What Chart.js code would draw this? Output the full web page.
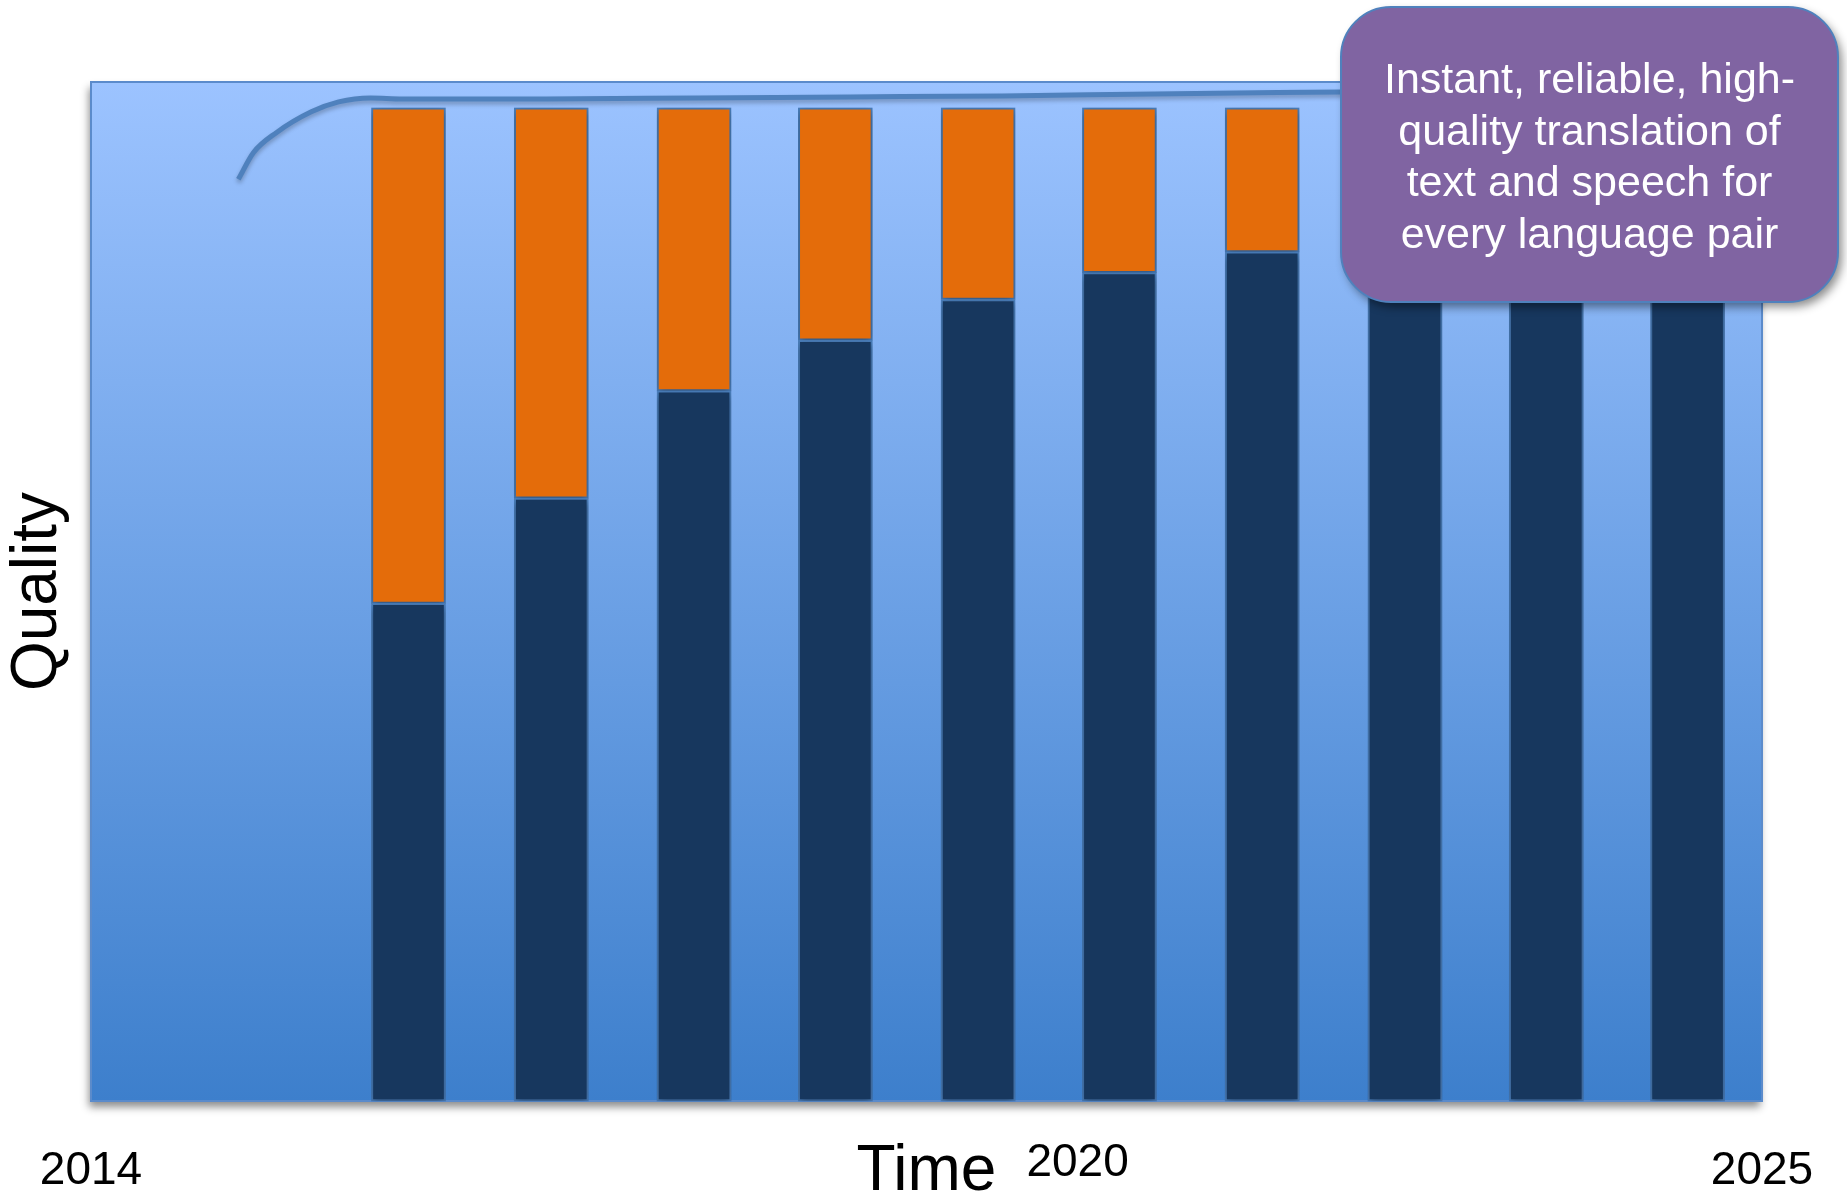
<!DOCTYPE html>
<html>
<head>
<meta charset="utf-8">
<title>Translation quality over time</title>
<script src="https://cdn.jsdelivr.net/npm/chart.js@4.4.1/dist/chart.umd.min.js"></script>
<style>
  html, body { margin: 0; padding: 0; background: #ffffff; }
  #wrap { width: 1847px; height: 1202px; }
</style>
</head>
<body>
<div id="wrap"><canvas id="qualityChart"></canvas></div>
<script>
// Chart data
const barYears = [2016.09, 2017.03, 2017.97, 2018.90, 2019.84, 2020.77, 2021.71, 2022.65, 2023.58, 2024.51];
const achieved = [50.1, 60.7, 71.5, 76.6, 80.7, 83.4, 85.5, 87.0, 88.3, 89.5]; // dark part of each bar
const remaining = [49.9, 39.3, 28.5, 23.4, 19.3, 16.6, 14.5, 13.0, 11.7, 10.5]; // orange part up to the top

const curveYears = [2014.97, 2015.07, 2015.22, 2015.45, 2015.63, 2015.84, 2016.05, 2017.0, 2018.0, 2019.0, 2020.0, 2021.0, 2022.24, 2023.5, 2024.8];
const curveQuality = [92.8, 95.5, 97.5, 99.6, 100.6, 101.0, 100.9, 100.9, 101.0, 101.1, 101.2, 101.4, 101.6, 101.8, 102.0];

const xTickYears = [2014, 2020, 2025];
const xTickLabels = ['2014', '2020', '2025'];

const calloutLines = [
  'Instant, reliable, high-',
  'quality translation of',
  'text and speech for',
  'every language pair'
];

const FONT = "'Liberation Sans', Arial, sans-serif";

// Transforms two arrays into {x, y} points
const toPoints = (xs, ys) => xs.map((x, i) => ({ x: x, y: ys[i] }));

// Label for a tick value
const yearLabel = (value) => xTickLabels[xTickYears.indexOf(value)];

// Plot background: vertical gradient with a soft shadow
const plotBackground = {
  id: 'plotBackground',
  beforeDraw(chart) {
    const { ctx, chartArea: a } = chart;
    ctx.save();
    ctx.fillStyle = '#ffffff';
    ctx.fillRect(0, 0, chart.width, chart.height);
    const g = ctx.createLinearGradient(0, a.top, 0, a.bottom);
    g.addColorStop(0, '#9CC3FF');
    g.addColorStop(1, '#3D7FCC');
    ctx.shadowColor = 'rgba(0,0,0,0.45)';
    ctx.shadowBlur = 8;
    ctx.shadowOffsetX = -2;
    ctx.shadowOffsetY = 6;
    ctx.fillStyle = g;
    ctx.fillRect(a.left, a.top, a.width, a.height);
    ctx.shadowColor = 'transparent';
    ctx.strokeStyle = '#5B8BCB';
    ctx.lineWidth = 2;
    ctx.strokeRect(a.left, a.top, a.width, a.height);
    ctx.restore();
  }
};

// Shadow under bars and the curve
const markShadow = {
  id: 'markShadow',
  beforeDatasetDraw(chart, args) {
    const ctx = chart.ctx;
    ctx.save();
    if (args.meta.type === 'bar') {
      ctx.shadowColor = 'rgba(0,0,0,0.35)';
      ctx.shadowBlur = 8;
      ctx.shadowOffsetY = 3;
    } else {
      ctx.shadowColor = 'rgba(0,0,0,0.25)';
      ctx.shadowBlur = 4;
      ctx.shadowOffsetY = 3;
    }
  },
  afterDatasetDraw(chart) {
    chart.ctx.restore();
  }
};

// Purple rounded callout in the upper right corner
const callout = {
  id: 'callout',
  afterDraw(chart) {
    const ctx = chart.ctx;
    const x = 1341, y = 7, w = 497, h = 295, r = 50;
    ctx.save();
    ctx.shadowColor = 'rgba(0,0,0,0.45)';
    ctx.shadowBlur = 10;
    ctx.shadowOffsetX = 4;
    ctx.shadowOffsetY = 5;
    ctx.beginPath();
    ctx.roundRect(x, y, w, h, r);
    ctx.fillStyle = '#8064A2';
    ctx.fill();
    ctx.shadowColor = 'transparent';
    ctx.lineWidth = 2;
    ctx.strokeStyle = '#4F81BD';
    ctx.stroke();
    ctx.fillStyle = '#ffffff';
    ctx.font = '43px ' + FONT;
    ctx.textAlign = 'center';
    ctx.textBaseline = 'alphabetic';
    calloutLines.forEach((line, i) => ctx.fillText(line, x + w / 2, y + 86 + i * 51.5));
    ctx.restore();
  }
};

const yearFont = { family: FONT, size: 46, lineHeight: 1 };

new Chart(document.getElementById('qualityChart'), {
  type: 'bar',
  data: {
    datasets: [
      {
        label: 'Quality reached',
        data: toPoints(barYears, achieved),
        xAxisID: 'x',
        yAxisID: 'y',
        backgroundColor: '#17375E',
        borderColor: '#4A7EBB',
        borderWidth: 2,
        borderSkipped: false,
        barThickness: 74,
        clip: false,
        order: 1
      },
      {
        label: 'Gap to target',
        data: toPoints(barYears, remaining),
        xAxisID: 'x',
        yAxisID: 'y',
        backgroundColor: '#E46C0A',
        borderColor: '#4A7EBB',
        borderWidth: 2,
        borderSkipped: false,
        barThickness: 74,
        clip: false,
        order: 2
      },
      {
        type: 'line',
        label: 'Expected quality',
        data: toPoints(curveYears, curveQuality),
        xAxisID: 'x',
        yAxisID: 'y',
        borderColor: '#4F81BD',
        borderWidth: 5,
        pointRadius: 0,
        fill: false,
        cubicInterpolationMode: 'monotone',
        order: 0
      }
    ]
  },
  options: {
    responsive: true,
    maintainAspectRatio: false,
    animation: false,
    layout: { padding: { top: 82, right: 85, bottom: 0, left: 0 } },
    plugins: {
      legend: { display: false },
      tooltip: { enabled: false }
    },
    scales: {
      x: {
        type: 'linear',
        position: 'bottom',
        min: 2014,
        max: 2025,
        offset: false,
        stacked: true,
        grid: { display: false },
        border: { display: false },
        afterBuildTicks: (scale) => { scale.ticks = [xTickYears[0], xTickYears[xTickYears.length - 1]].map(v => ({ value: v })); },
        afterFit: (scale) => { scale.height = 101; scale.paddingLeft = 0; scale.paddingRight = 0; },
        ticks: {
          autoSkip: false,
          maxRotation: 0,
          padding: 39,
          color: '#000000',
          font: yearFont,
          callback: (value) => yearLabel(value)
        },
        title: {
          display: true,
          text: 'Time',
          color: '#000000',
          font: { family: FONT, size: 64, lineHeight: 1 },
          padding: { top: 0, bottom: -2 }
        }
      },
      // inner year label: zero-height axis next to the plot, label sits right of its tick
      xInner: {
        type: 'linear',
        axis: 'x',
        position: 'bottom',
        weight: -1,
        min: 2014,
        max: 2025,
        offset: false,
        grid: { display: false },
        border: { display: false },
        afterBuildTicks: (scale) => { scale.ticks = xTickYears.slice(1, -1).map(v => ({ value: v })); },
        afterFit: (scale) => { scale.height = 0; scale.paddingLeft = 0; scale.paddingRight = 0; },
        ticks: {
          autoSkip: false,
          maxRotation: 0,
          mirror: true,
          align: 'start',
          labelOffset: 24,
          padding: -85,
          color: '#000000',
          font: yearFont,
          callback: (value) => yearLabel(value)
        }
      },
      y: {
        min: 0,
        max: 102.6,
        stacked: true,
        grid: { display: false },
        border: { display: false },
        ticks: { display: false },
        afterFit: (scale) => { scale.width = 91; },
        title: {
          display: true,
          text: 'Quality',
          color: '#000000',
          font: { family: FONT, size: 64, lineHeight: 1 },
          padding: { top: 6, bottom: 0 }
        }
      }
    }
  },
  plugins: [plotBackground, markShadow, callout]
});
</script>
</body>
</html>
